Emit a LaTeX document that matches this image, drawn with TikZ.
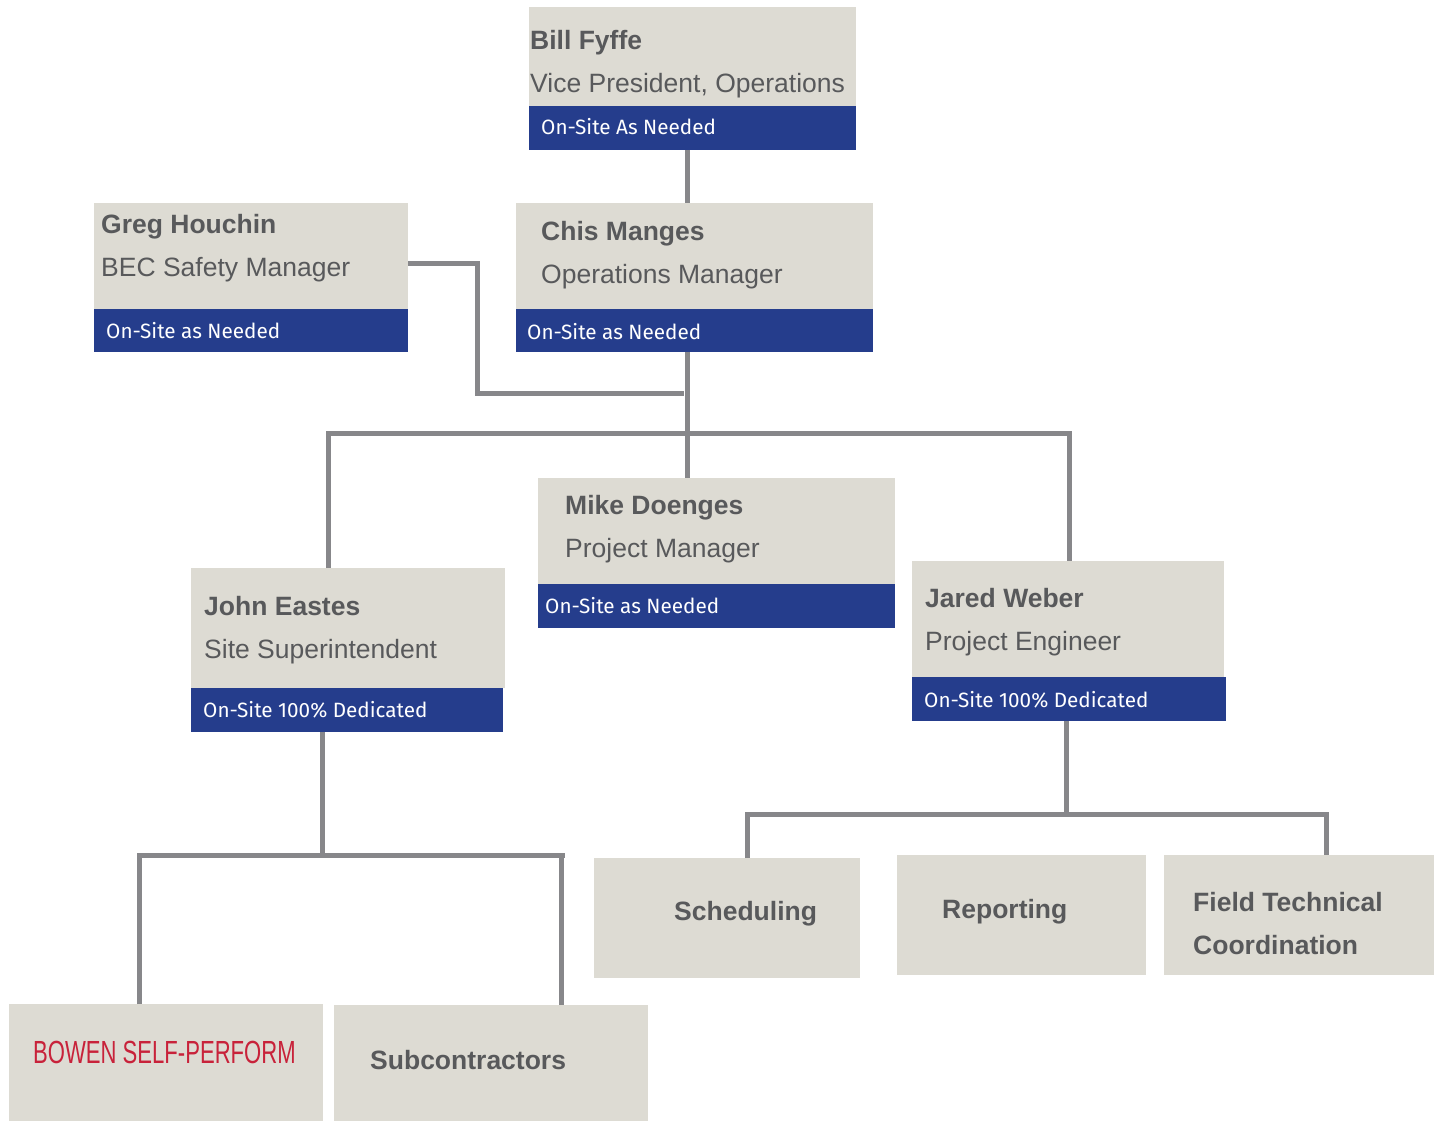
\documentclass[tikz,border=0pt]{standalone}
\usepackage{fontspec}
\setmainfont{Liberation Sans}
\newfontfamily\bandfont{Fira Sans}
\newfontfamily\narrowfont[FakeStretch=0.69]{Liberation Sans}
\definecolor{boxgray}{RGB}{221,219,211}
\definecolor{bandblue}{RGB}{37,61,140}
\definecolor{txtgray}{RGB}{88,89,91}
\definecolor{linegray}{RGB}{135,135,138}
\definecolor{bowenred}{RGB}{200,34,58}
\tikzset{
  box/.style={fill=boxgray, draw=none, inner sep=0pt, outer sep=0pt, anchor=north west},
  band/.style={fill=bandblue, draw=none, inner sep=0pt, outer sep=0pt, anchor=north west},
  pname/.style={anchor=base west, inner sep=0pt, text=txtgray, font=\fontsize{26.5}{30}\selectfont\bfseries},
  ptitle/.style={anchor=base west, inner sep=0pt, text=txtgray, font=\fontsize{26.5}{30}\selectfont},
  pstatus/.style={anchor=base west, inner sep=0pt, text=white, font=\bandfont\fontsize{20.7}{24}\selectfont},
  conn/.style={draw=linegray, line width=5pt, line join=miter}
}
\begin{document}
\begin{tikzpicture}[x=1pt, y=-1pt]
\useasboundingbox (0,0) rectangle (1440,1121);
% Bill Fyffe
\node[box, minimum width=327pt, minimum height=99pt] (bill) at (529,7) {};
\node[band, minimum width=327pt, minimum height=44pt] (billband) at (529,106) {};
\node[pname] (billn) at (530,50) {Bill Fyffe};
\node[ptitle] (billt) at (530,93) {Vice President, Operations};
\node[pstatus] (bills) at (541,135) {On-Site As Needed};
% Greg Houchin
\node[box, minimum width=314pt, minimum height=106pt] (greg) at (94,203) {};
\node[band, minimum width=314pt, minimum height=43pt] (gregband) at (94,309) {};
\node[pname] (gregn) at (101,233) {Greg Houchin};
\node[ptitle] (gregt) at (101,276) {BEC Safety Manager};
\node[pstatus] (gregs) at (106,338) {On-Site as Needed};
% Chis Manges
\node[box, minimum width=357pt, minimum height=106pt] (chis) at (516,203) {};
\node[band, minimum width=357pt, minimum height=43pt] (chisband) at (516,309) {};
\node[pname] (chisn) at (541,240) {Chis Manges};
\node[ptitle] (chist) at (541,283) {Operations Manager};
\node[pstatus] (chiss) at (527,339) {On-Site as Needed};
% Mike Doenges
\node[box, minimum width=357pt, minimum height=106pt] (mike) at (538,478) {};
\node[band, minimum width=357pt, minimum height=44pt] (mikeband) at (538,584) {};
\node[pname] (miken) at (565,514) {Mike Doenges};
\node[ptitle] (miket) at (565,557) {Project Manager};
\node[pstatus] (mikes) at (545,613) {On-Site as Needed};
% John Eastes
\node[box, minimum width=314pt, minimum height=120pt] (john) at (191,568) {};
\node[band, minimum width=312pt, minimum height=44pt] (johnband) at (191,688) {};
\node[pname] (johnn) at (204,615) {John Eastes};
\node[ptitle] (johnt) at (204,658) {Site Superintendent};
\node[pstatus] (johns) at (203,717) {On-Site 100\% Dedicated};
% Jared Weber
\node[box, minimum width=312pt, minimum height=116pt] (jared) at (912,561) {};
\node[band, minimum width=314pt, minimum height=44pt] (jaredband) at (912,677) {};
\node[pname] (jaredn) at (925,607) {Jared Weber};
\node[ptitle] (jaredt) at (925,650) {Project Engineer};
\node[pstatus] (jareds) at (924,707) {On-Site 100\% Dedicated};
% bottom boxes
\node[box, minimum width=314pt, minimum height=117pt] (bowen) at (9,1004) {};
\node[anchor=base west, inner sep=0pt, text=bowenred, font=\narrowfont\fontsize{32}{34}\selectfont] (bowent) at (33,1063) {BOWEN SELF-PERFORM};
\node[box, minimum width=314pt, minimum height=116pt] (subs) at (334,1005) {};
\node[pname] (subst) at (370,1069) {Subcontractors};
\node[box, minimum width=266pt, minimum height=120pt] (sched) at (594,858) {};
\node[pname] (schedt) at (674,920) {Scheduling};
\node[box, minimum width=249pt, minimum height=120pt] (report) at (897,855) {};
\node[pname] (reportt) at (942,918) {Reporting};
\node[box, minimum width=270pt, minimum height=120pt] (field) at (1164,855) {};
\node[pname] (fieldt) at (1193,911) {Field Technical};
\node[pname] (fieldt2) at (1193,954) {Coordination};
% junction coordinates
\coordinate (jtop) at (687,433);
\coordinate (jgreg) at (477,393);
\coordinate (jleft) at (328,433);
\coordinate (jright) at (1069,433);
\coordinate (jjohn) at (322,855);
\coordinate (jbowen) at (139,855);
\coordinate (jsubs) at (561,855);
\coordinate (jjared) at (1066,814);
\coordinate (jsched) at (747,814);
\coordinate (jfield) at (1326,814);
% connectors
\draw[conn] (billband.south -| jtop) -- (chis.north -| jtop);
\draw[conn] (greg.east |- 0,263) -- (jgreg |- 0,263) -- (jgreg) -- (684,393);
\draw[conn] (chisband.south -| jtop) -- (mike.north -| jtop);
\draw[conn] (john.north -| jleft) -- (jleft) -- (jright) -- (jared.north -| jright);
\draw[conn] (johnband.south -| jjohn) -- (jjohn);
\draw[conn] (bowen.north -| jbowen) -- (jbowen) -- (565,855);
\draw[conn] (jsubs) -- (subs.north -| jsubs);
\draw[conn] (jaredband.south -| jjared) -- (jjared);
\draw[conn] (sched.north -| jsched) -- (jsched) -- (1328.5,814);
\draw[conn] (jfield) -- (field.north -| jfield);
\end{tikzpicture}
\end{document}
